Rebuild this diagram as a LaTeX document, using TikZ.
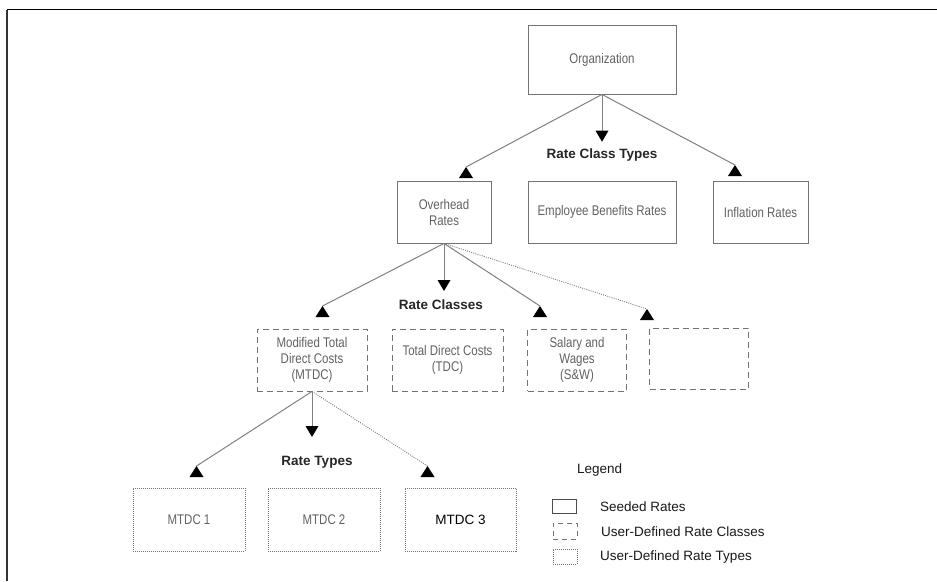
\documentclass[tikz,border=0pt]{standalone}
\usepackage{fontspec}
\setmainfont{Liberation Sans}
\newfontfamily\narrowfont{Liberation Sans}[FakeStretch=0.82]
\usetikzlibrary{calc}

\definecolor{boxgray}{gray}{0.45}
\definecolor{linegray}{gray}{0.5}
\definecolor{txtgray}{gray}{0.38}

\tikzset{
  seeded/.style={draw=boxgray, line width=0.9pt, align=center, inner sep=0pt,
    text=txtgray, font=\narrowfont\fontsize{14}{16}\selectfont},
  classbox/.style={seeded, dash pattern=on 6pt off 4pt},
  typebox/.style={seeded, dash pattern=on 1pt off 1pt},
  heading/.style={font=\bfseries\fontsize{13.5}{15}\selectfont, text=black!85, inner sep=0pt},
  legtext/.style={font=\fontsize{13.5}{15}\selectfont, text=black!90, inner sep=0pt, anchor=west},
  conn/.style={draw=linegray, line width=1pt},
  dotconn/.style={draw=linegray, line width=0.9pt, dash pattern=on 1pt off 1.2pt},
}

% filled arrowheads: pointing down, and the upright kind at the ends of slanted links
\newcommand\ArrDown[1]{\fill[black] (#1) -- ++(-6.5,-11) -- ++(13,0) -- cycle;}
\newcommand\ArrUp[1]{\fill[black] (#1) -- ++(-7,11) -- ++(14,0) -- cycle;}

\begin{document}
\begin{tikzpicture}[x=1pt,y=-1pt]
\useasboundingbox (0,0) rectangle (937,581);

% heading of the figure, only its lower edge lies on the page
\begin{scope}
  \clip (0,0) rectangle (937,581);
  \path (165,-6) node[anchor=base west, inner sep=0pt, outer sep=0pt,
    font=\bfseries\itshape\fontsize{17.5}{20}\selectfont] (title)
    {Figure 6--1 Rate Structure of a Typical Organization};
\end{scope}

% frame
\draw[black, line width=1.5pt] (6.7,9.5) -- (937,9.5);
\draw[black!80, line width=2pt] (6.7,9.5) -- (6.7,581);

% level 1
\node[seeded, minimum width=148pt, minimum height=69pt] (org) at (602,59.5) {Organization};

% level 2: rate class types
\node[seeded, minimum width=94pt, minimum height=62pt] (ovh) at (444,212) {Overhead\\Rates};
\node[seeded, minimum width=148pt, minimum height=62pt] (emp) at (602,212) {Employee Benefits Rates};
\node[seeded, minimum width=95pt, minimum height=62pt] (inf) at (760.5,212) {Inflation Rates};

% level 3: rate classes
\node[classbox, minimum width=110pt, minimum height=62pt] (mtdc) at (312,360) {Modified Total\\Direct Costs\\(MTDC)};
\node[classbox, minimum width=111pt, minimum height=62pt] (tdc) at (447.5,360) {Total Direct Costs\\(TDC)};
\node[classbox, minimum width=98.5pt, minimum height=62pt] (sw) at (577,360) {Salary and\\Wages\\(S\&W)};
\node[classbox, minimum width=99pt, minimum height=61pt] (blank) at (699,358.5) {};

% level 4: rate types
\node[typebox, minimum width=112pt, minimum height=63pt] (m1) at (189,519.5) {MTDC 1};
\node[typebox, minimum width=112pt, minimum height=63pt] (m2) at (324,519.5) {MTDC 2};
\node[typebox, minimum width=111pt, minimum height=63pt, text=black,
      font=\fontsize{13.5}{16}\selectfont] (m3) at (460.5,519.5) {MTDC 3};

% group headings
\node[heading] (hct) at (602,155) {Rate Class Types};
\node[heading] (hcl) at (441,305) {Rate Classes};
\node[heading] (hty) at (317,462) {Rate Types};

% link end points
\coordinate (t1) at (602,141.7);
\coordinate (a1) at (466,167);
\coordinate (a2) at (735,165);
\coordinate (t2) at (444,291);
\coordinate (a3) at (322.5,306);
\coordinate (a4) at (540,306);
\coordinate (a5) at (647,309);
\coordinate (t3) at (312,437);
\coordinate (a6) at (196.5,466);
\coordinate (a7) at (427.5,466);

% links from the organization
\draw[conn] (org.south) -- ($(t1)+(0,-10)$);
\ArrDown{t1}
\draw[conn] (org.south) -- (a1); \ArrUp{a1}
\draw[conn] (org.south) -- (a2); \ArrUp{a2}

% links from overhead rates
\draw[conn] (ovh.south) -- ($(t2)+(0,-10)$);
\ArrDown{t2}
\draw[conn] (ovh.south) -- (a3); \ArrUp{a3}
\draw[conn] (ovh.south) -- (a4); \ArrUp{a4}
\draw[dotconn] (ovh.south) -- (a5); \ArrUp{a5}

% links from MTDC
\draw[conn] (mtdc.south) -- ($(t3)+(0,-10)$);
\ArrDown{t3}
\draw[conn] (mtdc.south) -- (a6); \ArrUp{a6}
\draw[dotconn] (mtdc.south) -- (a7); \ArrUp{a7}

% legend
\node[legtext] (leg) at (577,470) {Legend};
\node[draw=black!70, line width=0.9pt, minimum width=24pt, minimum height=14pt, inner sep=0pt] (ls) at (564,506) {};
\node[draw=boxgray, line width=1pt, dash pattern=on 5pt off 4pt, minimum width=24pt, minimum height=16pt, inner sep=0pt] (lc) at (565,531) {};
\node[draw=boxgray, line width=0.9pt, dash pattern=on 1pt off 1pt, minimum width=24pt, minimum height=15pt, inner sep=0pt] (lt) at (565,556.5) {};
\node[legtext] (lst) at (600,507) {Seeded Rates};
\node[legtext] (lct) at (601,532) {User-Defined Rate Classes};
\node[legtext] (ltt) at (600,557) {User-Defined Rate Types};
\end{tikzpicture}
\end{document}
